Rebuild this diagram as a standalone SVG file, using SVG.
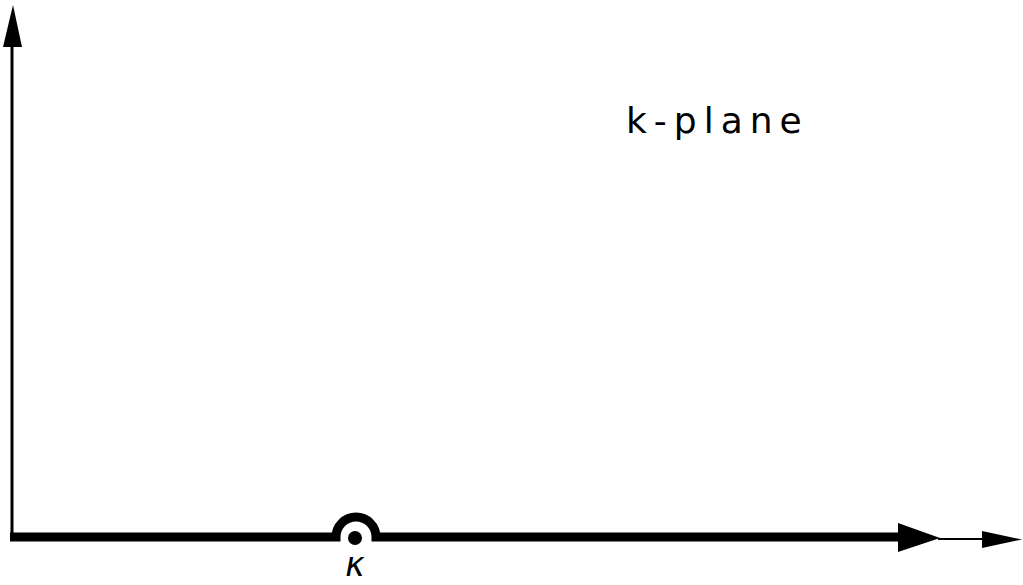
<svg xmlns="http://www.w3.org/2000/svg" width="1023" height="585" viewBox="0 0 1023 585">
<style>
.ax{fill:none;stroke:#000;stroke-linecap:butt}
.lbl{font-family:"DejaVu Sans","Liberation Sans",Arial,sans-serif;fill:#000}
</style>
<rect width="1023" height="585" fill="#fff"/>
<g id="connectors">
<path class="ax" d="M12 541 V40" stroke-width="3"/>
<polygon points="13,5 3,47 22,47" fill="#000"/>
<path class="ax" d="M10 537 H336 A20 20 0 0 1 376 537 H905" stroke-width="9"/>
<polygon points="898,523 940,538 898,552" fill="#000"/>
<path class="ax" d="M938 539 H986" stroke-width="2"/>
<polygon points="982,531 1022,539.5 982,548" fill="#000"/>
</g>
<g id="pole">
<circle cx="355" cy="538" r="7" fill="#000"/>
<text class="lbl" x="355" y="576" font-size="33" font-style="italic" text-anchor="middle">κ</text>
</g>
<g id="label">
<text class="lbl" x="626" y="133" font-size="36" letter-spacing="7">k-plane</text>
</g>
</svg>
